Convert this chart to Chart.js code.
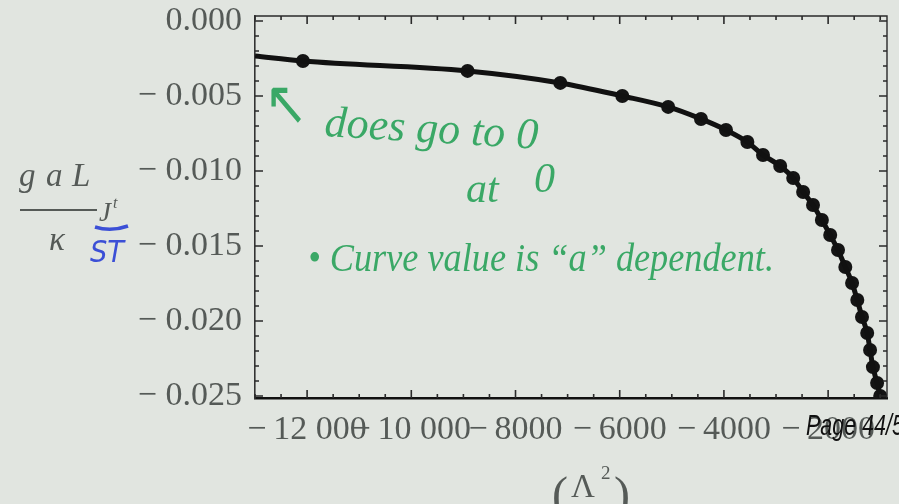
<!DOCTYPE html>
<html>
<head>
<meta charset="utf-8">
<script src="https://cdn.jsdelivr.net/npm/chart.js@4.4.0/dist/chart.umd.min.js"></script>
<style>
  html, body { margin: 0; padding: 0; background: #e1e5e0; }
  #wrap { width: 899px; height: 504px; }
</style>
</head>
<body>
<div id="wrap"><canvas id="myChart" width="899" height="504"></canvas></div>
<script>
// sample points : Lambda^2 vs value
var lambdaSq = [-12080, -8920, -7140, -5950, -5070, -4440, -3960, -3550, -3250, -2920,
                -2670, -2480, -2290, -2120, -1960, -1810, -1670, -1540, -1440, -1350,
                -1250, -1195, -1140, -1060, -1000];
var jValues = [-0.00267, -0.00333, -0.00413, -0.0050, -0.00573, -0.00653, -0.00727, -0.00807, -0.00893, -0.00967,
               -0.01047, -0.0114, -0.01227, -0.01327, -0.01427, -0.01527, -0.0164, -0.01747, -0.0186, -0.01973,
               -0.0208, -0.02193, -0.02307, -0.02413, -0.0250];

// fitted curve ends
var curveStartX = -13000, curveStartY = -0.00233;
var curveEndX = -950, curveEndY = -0.0257;

// ticks
var xTicks = [-12000, -10000, -8000, -6000, -4000, -2000];
var xTickLabels = ["\u2212\u200912 000", "\u2212\u200910 000", "\u2212\u20098000", "\u2212\u20096000", "\u2212\u20094000", "\u2212\u20092000"];
var yTicks = [0, -0.005, -0.010, -0.015, -0.020, -0.025];
var yTickLabels = ["0.000", "\u2212\u20050.005", "\u2212\u20050.010", "\u2212\u20050.015", "\u2212\u20050.020", "\u2212\u20050.025"];

var points = lambdaSq.map(function (x, i) { return { x: x, y: jValues[i] }; });
var curve = [{ x: curveStartX, y: curveStartY }].concat(points, [{ x: curveEndX, y: curveEndY }]);

var serif = "'Liberation Serif', 'DejaVu Serif', serif";

// inward frame ticks on all four sides + top/right frame
var frameTicks = {
  id: "frameTicks",
  afterDatasetsDraw: function (chart) {
    var ctx = chart.ctx, a = chart.chartArea;
    var xs = chart.scales.x, ys = chart.scales.y;
    ctx.save();
    ctx.strokeStyle = "#2a2a2a";
    ctx.lineWidth = 1.4;
    ctx.beginPath();
    ctx.moveTo(a.left, a.top); ctx.lineTo(a.right, a.top); ctx.lineTo(a.right, a.bottom);
    ctx.stroke();
    ctx.lineWidth = 1.6;
    ctx.beginPath();
    for (var v = -13000; v <= -1000; v += 500) {
      var px = xs.getPixelForValue(v);
      var len = (v % 2000 === 0) ? 8 : 4;
      ctx.moveTo(px, a.bottom); ctx.lineTo(px, a.bottom - len);
      ctx.moveTo(px, a.top); ctx.lineTo(px, a.top + len);
    }
    for (var k = 0; k <= 25; k++) {
      var py = ys.getPixelForValue(-k * 0.001);
      var l2 = (k % 5 === 0) ? 8 : 4;
      ctx.moveTo(a.left, py); ctx.lineTo(a.left + l2, py);
      ctx.moveTo(a.right, py); ctx.lineTo(a.right - l2, py);
    }
    ctx.stroke();
    ctx.restore();
  }
};

// axis labels, handwritten notes and slide footer
var notes = {
  id: "notes",
  afterDraw: function (chart) {
    var ctx = chart.ctx;
    ctx.save();
    ctx.textBaseline = "alphabetic";
    ctx.textAlign = "left";

    // y axis label  g a L / kappa  J^t
    ctx.fillStyle = "#555a57";
    ctx.font = "italic 33px " + serif;
    ctx.fillText("g", 19, 186);
    ctx.fillText("a", 46, 186);
    ctx.fillText("L", 72, 186);
    ctx.fillRect(20, 209, 77, 2);
    ctx.fillText("\u03ba", 49, 250);
    ctx.font = "italic 27px " + serif;
    ctx.fillText("J", 99, 221);
    ctx.font = "italic 16px " + serif;
    ctx.fillText("t", 113, 208);

    // blue note under J
    ctx.strokeStyle = "#3b4fd6";
    ctx.lineWidth = 3.5;
    ctx.beginPath();
    ctx.moveTo(95, 227); ctx.quadraticCurveTo(111, 232, 128, 226);
    ctx.stroke();
    ctx.fillStyle = "#3b4fd6";
    ctx.font = "italic 30px 'DejaVu Sans', sans-serif";
    ctx.fillText("ST", 90, 262, 34);

    // green notes
    ctx.fillStyle = "#3aa866";
    ctx.font = "62px 'DejaVu Sans', sans-serif";
    ctx.fillText("\u2196", 264, 124, 44);
    ctx.save();
    ctx.translate(324, 136);
    ctx.rotate(0.06);
    ctx.font = "italic 44px " + serif;
    ctx.fillText("does go to 0", 0, 0, 228);
    ctx.restore();
    ctx.font = "italic 42px " + serif;
    ctx.fillText("at", 466, 202, 42);
    ctx.fillText("0", 534, 192);
    ctx.font = "italic 40px " + serif;
    ctx.fillText("\u2022 Curve value is \u201ca\u201d dependent.", 308, 271, 466);

    // x axis label
    ctx.fillStyle = "#555a57";
    ctx.font = "48px " + serif;
    ctx.fillText("(", 552, 510);
    ctx.fillText(")", 614, 510);
    ctx.font = "33px " + serif;
    ctx.fillText("\u039b", 571, 497);
    ctx.font = "19px " + serif;
    ctx.fillText("2", 601, 479);

    // slide footer
    ctx.fillStyle = "#111";
    ctx.font = "italic 29px 'Liberation Sans', Arial, sans-serif";
    ctx.save();
    ctx.translate(806, 435);
    ctx.scale(0.74, 1);
    ctx.fillText("Page 44/5", 0, 0);
    ctx.restore();
    ctx.restore();
  }
};

new Chart("myChart", {
  type: "scatter",
  data: {
    datasets: [
      {
        type: "line",
        data: curve,
        borderColor: "#111",
        borderWidth: 5,
        pointRadius: 0,
        cubicInterpolationMode: "monotone",
        fill: false
      },
      {
        data: points,
        backgroundColor: "#141414",
        borderWidth: 0,
        pointRadius: 7
      }
    ]
  },
  options: {
    responsive: false,
    animation: false,
    layout: { padding: { top: 16, right: 12, left: 0, bottom: 0 } },
    plugins: { legend: { display: false }, tooltip: { enabled: false } },
    scales: {
      x: {
        type: "linear",
        min: -13000,
        max: -870,
        afterFit: function (s) { s.height = 106; s.paddingLeft = 0; s.paddingRight = 0; },
        afterBuildTicks: function (axis) { axis.ticks = xTicks.map(function (v) { return { value: v }; }); },
        ticks: {
          autoSkip: false,
          maxRotation: 0,
          padding: 12,
          color: "#555a57",
          font: { family: serif, size: 34 },
          callback: function (v, i) { return xTickLabels[i]; }
        },
        grid: { display: false, drawTicks: false },
        border: { color: "#111", width: 2.5 }
      },
      y: {
        type: "linear",
        min: -0.02513,
        max: 0.00033,
        afterFit: function (s) { s.width = 255; s.paddingTop = 0; s.paddingBottom = 0; },
        afterBuildTicks: function (axis) { axis.ticks = yTicks.map(function (v) { return { value: v }; }); },
        ticks: {
          autoSkip: false,
          padding: 13,
          color: "#555a57",
          font: { family: serif, size: 34 },
          callback: function (v, i) { return yTickLabels[i]; }
        },
        grid: { display: false, drawTicks: false },
        border: { color: "#333", width: 1.6 }
      }
    }
  },
  plugins: [frameTicks, notes]
});
</script>
</body>
</html>
